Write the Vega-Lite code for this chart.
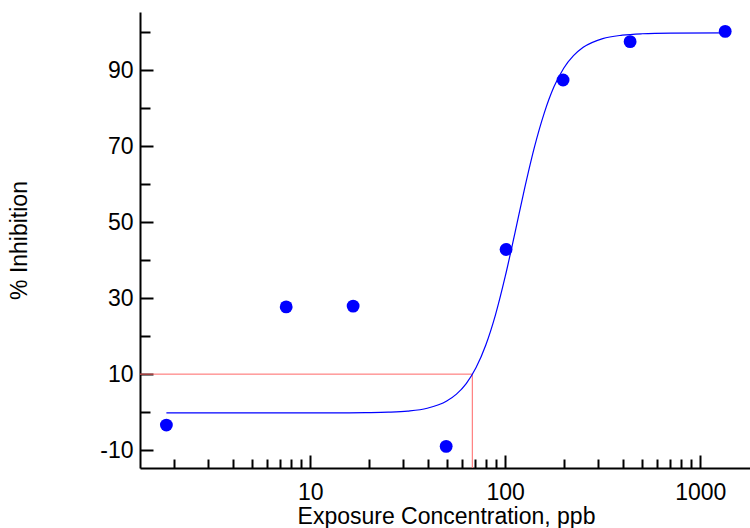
{
  "$schema": "https://vega.github.io/schema/vega-lite/v6.json",
  "width": 610,
  "height": 456,
  "autosize": {"type": "none"},
  "padding": {"left": 140, "top": 12, "right": 0, "bottom": 60},
  "config": {
    "view": {"stroke": null},
    "font": "Liberation Sans",
    "axis": {
      "domainColor": "#000000",
      "domainWidth": 2,
      "tickColor": "#000000",
      "tickWidth": 2,
      "grid": false,
      "labelColor": "#000000",
      "titleColor": "#000000",
      "labelFont": "Liberation Sans",
      "titleFont": "Liberation Sans",
      "labelFontSize": 23,
      "titleFontSize": 23,
      "titleFontWeight": "normal",
      "labelOverlap": false,
      "labelFlush": false
    }
  },
  "datasets": {
    "obs": [
      {"conc": 1.83, "inhib": -3.4},
      {"conc": 7.53, "inhib": 27.7},
      {"conc": 16.6, "inhib": 27.9},
      {"conc": 49.8, "inhib": -9.0},
      {"conc": 101, "inhib": 42.8},
      {"conc": 198, "inhib": 87.4},
      {"conc": 437, "inhib": 97.5},
      {"conc": 1343, "inhib": 100.2}
    ],
    "fit": [
      {"conc": 1.83, "inhib": -0.2},
      {"conc": 10, "inhib": -0.2},
      {"conc": 15.85, "inhib": -0.18},
      {"conc": 19.95, "inhib": -0.13},
      {"conc": 25.12, "inhib": -0.01},
      {"conc": 31.62, "inhib": 0.28},
      {"conc": 39.81, "inhib": 1.03},
      {"conc": 50.12, "inhib": 2.93},
      {"conc": 56.23, "inhib": 4.74},
      {"conc": 63.10, "inhib": 7.51},
      {"conc": 70.79, "inhib": 11.66},
      {"conc": 79.43, "inhib": 17.59},
      {"conc": 89.13, "inhib": 25.6},
      {"conc": 100, "inhib": 35.7},
      {"conc": 112.2, "inhib": 47.2},
      {"conc": 125.9, "inhib": 59.0},
      {"conc": 141.3, "inhib": 69.8},
      {"conc": 158.5, "inhib": 78.7},
      {"conc": 177.8, "inhib": 85.6},
      {"conc": 199.5, "inhib": 90.5},
      {"conc": 223.9, "inhib": 93.8},
      {"conc": 251.2, "inhib": 96.0},
      {"conc": 316.2, "inhib": 98.3},
      {"conc": 398.1, "inhib": 99.2},
      {"conc": 501.2, "inhib": 99.57},
      {"conc": 707.9, "inhib": 99.75},
      {"conc": 1343, "inhib": 99.8}
    ],
    "refh": [{"x1": 1.34, "x2": 67.8, "y": 10}],
    "refv": [{"x": 67.8, "y1": -14.7, "y2": 10}]
  },
  "layer": [
    {
      "data": {"name": "refh"},
      "mark": {"type": "rule", "color": "#ff6666", "strokeWidth": 1},
      "encoding": {
        "x": {"field": "x1", "type": "quantitative", "scale": {"type": "log", "domain": [1.34, 1800], "nice": false}},
        "x2": {"field": "x2"},
        "y": {"field": "y", "type": "quantitative", "scale": {"domain": [-14.7, 105.3], "nice": false, "zero": false}}
      }
    },
    {
      "data": {"name": "refv"},
      "mark": {"type": "rule", "color": "#ff6666", "strokeWidth": 1},
      "encoding": {
        "x": {"field": "x", "type": "quantitative"},
        "y": {"field": "y1", "type": "quantitative"},
        "y2": {"field": "y2"}
      }
    },
    {
      "data": {"name": "fit"},
      "mark": {"type": "line", "color": "#0000ff", "strokeWidth": 1.2, "interpolate": "monotone"},
      "encoding": {
        "x": {"field": "conc", "type": "quantitative"},
        "y": {"field": "inhib", "type": "quantitative"}
      }
    },
    {
      "data": {"name": "obs"},
      "mark": {"type": "point", "filled": true, "color": "#0000ff", "opacity": 1, "size": 165, "shape": "circle"},
      "encoding": {
        "x": {
          "field": "conc", "type": "quantitative",
          "axis": {
            "title": "Exposure Concentration, ppb",
            "values": [2,3,4,5,6,7,8,9,10,20,30,40,50,60,70,80,90,100,200,300,400,500,600,700,800,900,1000],
            "labelExpr": "(datum.value == 10 || datum.value == 100 || datum.value == 1000) ? ('' + datum.value) : ''",
            "tickSize": {"condition": {"test": "datum.value == 10 || datum.value == 100 || datum.value == 1000", "value": -13}, "value": -9},
            "labelPadding": 26,
            "titleX": 306,
            "titleY": 48,
            "titleBaseline": "middle"
          }
        },
        "y": {
          "field": "inhib", "type": "quantitative",
          "axis": {
            "title": "% Inhibition",
            "values": [-10,0,10,20,30,40,50,60,70,80,90,100],
            "labelExpr": "datum.value % 20 != 0 ? ('' + datum.value) : ''",
            "tickSize": {"condition": {"test": "datum.value % 20 == 0", "value": -10}, "value": -13},
            "labelPadding": 20,
            "titleX": -121,
            "titleY": 228,
            "titleBaseline": "middle"
          }
        }
      }
    }
  ]
}
